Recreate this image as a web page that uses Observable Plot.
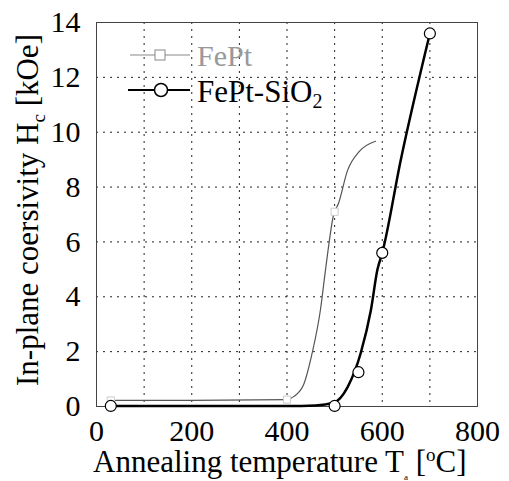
<!DOCTYPE html>
<html><head><meta charset="utf-8">
<script src="https://cdn.jsdelivr.net/npm/d3@7"></script>
<script src="https://cdn.jsdelivr.net/npm/@observablehq/plot@0.6"></script>
<style>
@font-face{font-family:"ChartSerif";src:local("Liberation Serif"),local("LiberationSerif-Regular"),local("Liberation Serif Regular"),local("DejaVu Serif");}
body{margin:0;background:#fff}
#chart svg text, #chart svg tspan{font-family:'Liberation Serif','ChartSerif','DejaVu Serif',serif !important}
</style>
</head><body><div id="chart"></div>
<script>
// Axis ticks and grid
const xTicks = [0, 200, 400, 600, 800];
const yTicks = [0, 2, 4, 6, 8, 10, 12, 14];
const xGrid = [100, 200, 300, 400, 500, 600, 700];
const yGrid = [2, 4, 6, 8, 10, 12];

// FePt-SiO2: measured points (circles)
const sio2T  = [30, 500, 550, 600, 700];
const sio2Hc = [0.02, 0.02, 1.25, 5.6, 13.6];
// FePt-SiO2: fitted guide curve
const sio2FitT  = [30, 200, 400, 460, 498, 527, 555, 576, 590, 600, 639, 700];
const sio2FitHc = [0.02, 0.02, 0.02, 0.04, 0.14, 0.7, 1.96, 3.5, 5.0, 5.6, 9.0, 13.6];

// FePt: measured points (squares)
const feptT  = [30, 400, 500];
const feptHc = [0.22, 0.25, 7.1];
// FePt: guide curve
const feptFitT  = [40, 200, 400, 414, 435, 453, 470, 481, 498, 508, 527, 552, 586];
const feptFitHc = [0.22, 0.22, 0.25, 0.36, 0.8, 1.96, 3.5, 5.0, 7.0, 7.4, 8.6, 9.3, 9.67];

const legendNames = ["FePt", "FePt-SiO"];

const toRows = (xs, ys) => xs.map((x, i) => ({x, y: ys[i]}));

const chart = Plot.plot({
  width: 509, height: 481,
  marginLeft: 96, marginRight: 32, marginTop: 22, marginBottom: 75,
  style: {fontSize: "30px", fontFamily: "Liberation Serif", color: "#000", background: "#fff"},
  x: {domain: [0, 800], ticks: xTicks, tickSize: 0, tickPadding: 13, label: null},
  y: {domain: [0, 14], ticks: yTicks, tickSize: 0, tickPadding: 16, label: null},
  marks: [
    Plot.ruleX(xGrid, {stroke: "#222", strokeWidth: 1, strokeDasharray: "2,5"}),
    Plot.ruleY(yGrid, {stroke: "#222", strokeWidth: 1, strokeDasharray: "2,5"}),
    Plot.frame({stroke: "#444", strokeWidth: 1}),
    Plot.line(toRows(feptFitT, feptFitHc), {x: "x", y: "y", stroke: "#555", strokeWidth: 1.2, curve: "monotone-x"}),
    Plot.dot(toRows(feptT, feptHc), {x: "x", y: "y", symbol: "square", r: 4, stroke: "#ccc", fill: "#fff", strokeWidth: 1}),
    Plot.line(toRows(sio2FitT, sio2FitHc), {x: "x", y: "y", stroke: "#000", strokeWidth: 2.5, curve: "monotone-x"}),
    Plot.dot(toRows(sio2T, sio2Hc), {x: "x", y: "y", r: 5.5, stroke: "#000", fill: "#fff", strokeWidth: 1.2})
  ]
});

const svg = d3.select(chart);
// Legend
const lg = svg.append("g").attr("text-anchor", "start");
lg.append("line").attr("x1", 130).attr("x2", 190).attr("y1", 55).attr("y2", 55).attr("stroke", "#888").attr("stroke-width", 1);
lg.append("rect").attr("x", 155).attr("y", 50).attr("width", 10).attr("height", 10).attr("fill", "#fff").attr("stroke", "#888");
lg.append("text").attr("x", 197).attr("y", 66).attr("font-size", 30).attr("fill", "#999").text(legendNames[0]);
lg.append("line").attr("x1", 128).attr("x2", 190).attr("y1", 90).attr("y2", 90).attr("stroke", "#000").attr("stroke-width", 2);
lg.append("circle").attr("cx", 161).attr("cy", 90).attr("r", 6.5).attr("fill", "#fff").attr("stroke", "#000").attr("stroke-width", 1.5);
const t2 = lg.append("text").attr("x", 197).attr("y", 102).attr("font-size", 31).attr("fill", "#000");
t2.append("tspan").text(legendNames[1]);
t2.append("tspan").attr("font-size", 20).attr("dy", 6).text("2");

// X axis label
const xl = svg.append("text").attr("x", 93).attr("y", 472).attr("text-anchor", "start")
  .attr("font-size", 31).attr("fill", "#000");
xl.append("tspan").text("Annealing temperature T");
xl.append("tspan").attr("font-size", 9).attr("dy", 8).text("a");
xl.append("tspan").attr("dy", -8).text(" [");
xl.append("tspan").attr("font-size", 19).attr("dy", -11).text("o");
xl.append("tspan").attr("dy", 11).text("C]");

// Y axis label
const yl = svg.append("text").attr("transform", "translate(38,210) rotate(-90)").attr("text-anchor", "middle")
  .attr("font-size", 31).attr("fill", "#000");
yl.append("tspan").text("In-plane coersivity H");
yl.append("tspan").attr("font-size", 19).attr("dy", 7).text("c");
yl.append("tspan").attr("dy", -7).text(" [kOe]");

svg.selectAll("text").attr("font-family", "Liberation Serif");

document.getElementById("chart").appendChild(chart);
</script>
</body></html>
